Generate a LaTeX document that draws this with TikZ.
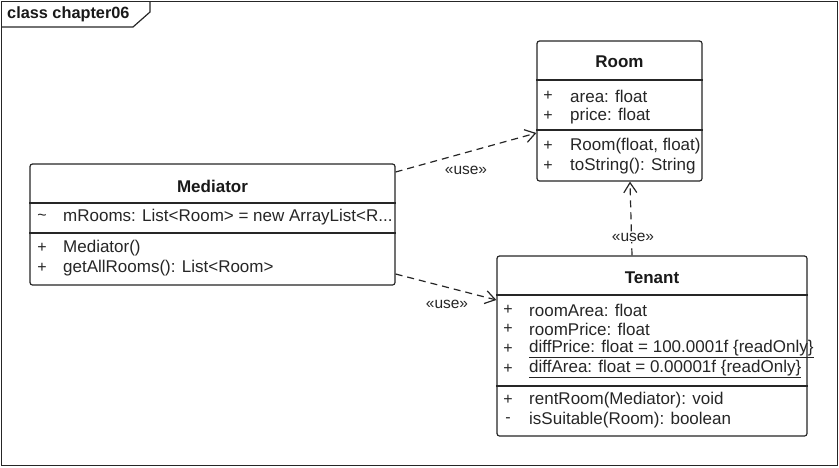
\documentclass[tikz,border=0pt]{standalone}
\usepackage{fontspec}
\setmainfont{Liberation Sans}
\usetikzlibrary{arrows.meta}
\begin{document}
\begin{tikzpicture}[x=1pt,y=-1pt,
  ink/.style={draw=black!85, line width=1.2pt},
  umlbox/.style={ink, rounded corners=2.5pt, fill=white, inner sep=0pt},
  divider/.style={draw=black!85, line width=1.1pt},
  mem/.style={anchor=west, inner sep=0pt, text=black!85, font=\fontsize{17}{20}\selectfont},
  vis/.style={anchor=center, inner sep=0pt, text=black!85, font=\fontsize{16}{18}\selectfont},
  title/.style={anchor=center, inner sep=0pt, text=black!90, font=\fontsize{17}{20}\selectfont\bfseries},
  dep/.style={draw=black!85, line width=1.2pt, dash pattern=on 7pt off 5pt, -{Straight Barb[length=10pt,width=13pt,line width=1.2pt]}},
  stereo/.style={inner sep=0pt, text=black!85, font=\fontsize{15.5}{18}\selectfont}
]
\useasboundingbox (0,0) rectangle (839,467);
% frame
\node[draw=black!85, line width=1.2pt, minimum width=836pt, minimum height=464pt, inner sep=0pt, anchor=north west] (frame) at (1,1) {};
\draw[ink] (1,27) -- (133,27) -- (150,12) -- (150,1);
\node[anchor=west, inner sep=0pt, font=\fontsize{16.3}{18}\selectfont\bfseries, text=black!90] (ftitle) at (7,14) {class chapter06};

% Room
\node[umlbox, minimum width=165pt, minimum height=140pt] (room) at (619.5,111) {};
\draw[divider] (room.west |- 0,80) -- (room.east |- 0,80);
\draw[divider] (room.west |- 0,130) -- (room.east |- 0,130);
\node[title] (roomt) at (619.5,62) {Room};
\node[vis] (r1v) at (548,96) {+};
\node[mem] (r1) at (570,96) {area: float};
\node[vis] (r2v) at (548,116) {+};
\node[mem] (r2) at (570,116) {price: float};
\node[vis] (r3v) at (548,146) {+};
\node[mem] (r3) at (570,146) {Room(float, float)};
\node[vis] (r4v) at (548,166) {+};
\node[mem] (r4) at (570,166) {toString(): String};

% Mediator
\node[umlbox, minimum width=365pt, minimum height=121pt] (med) at (212.5,224.5) {};
\draw[divider] (med.west |- 0,203) -- (med.east |- 0,203);
\draw[divider] (med.west |- 0,233) -- (med.east |- 0,233);
\node[title] (medt) at (212.5,186) {Mediator};
\node[vis] (m1v) at (42,217) {\textasciitilde};
\node[mem] (m1) at (63,217) {mRooms: List<Room> = new ArrayList<R...};
\node[vis] (m2v) at (42,248) {+};
\node[mem] (m2) at (63,248) {Mediator()};
\node[vis] (m3v) at (42,268) {+};
\node[mem] (m3) at (63,268) {getAllRooms(): List<Room>};

% Tenant
\node[umlbox, minimum width=310pt, minimum height=180pt] (ten) at (652,346) {};
\draw[divider] (ten.west |- 0,295) -- (ten.east |- 0,295);
\draw[divider] (ten.west |- 0,386) -- (ten.east |- 0,386);
\node[title] (tent) at (652,278) {Tenant};
\node[vis] (t1v) at (508,310) {+};
\node[mem] (t1) at (529,310) {roomArea: float};
\node[vis] (t2v) at (508,329) {+};
\node[mem] (t2) at (529,329) {roomPrice: float};
\node[vis] (t3v) at (508,349) {+};
\node[mem] (t3) at (529,349) {\underline{diffPrice: float = 100.0001f \{readOnly\}}};
\node[vis] (t4v) at (508,369) {+};
\node[mem] (t4) at (529,369) {\underline{diffArea: float = 0.00001f \{readOnly\}}};
\node[vis] (t5v) at (508,400) {+};
\node[mem] (t5) at (529,400) {rentRoom(Mediator): void};
\node[vis] (t6v) at (508,420) {-};
\node[mem] (t6) at (529,420) {isSuitable(Room): boolean};

% dependencies
\draw[dep] ([yshift=52.5pt]med.east) -- ([yshift=-22pt]room.west);
\node[stereo] (u1) at (466,170) {«use»};
\draw[dep] ([yshift=-49.5pt]med.east) -- ([yshift=46pt]ten.west);
\node[stereo] (u2) at (447,304) {«use»};
\draw[dep] ([xshift=-20pt]ten.north) -- ([xshift=10.5pt]room.south);
\node[stereo, fill=white, inner sep=1pt] (u3) at (633,237) {«use»};
\end{tikzpicture}
\end{document}
